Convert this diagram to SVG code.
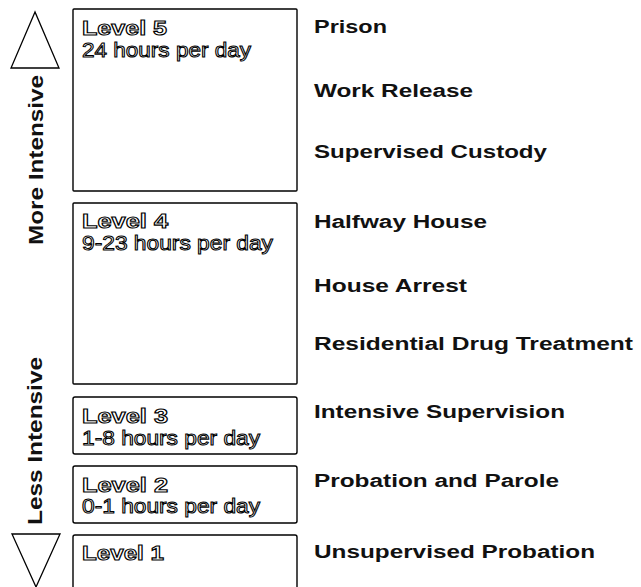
<svg xmlns="http://www.w3.org/2000/svg" width="641" height="587" viewBox="0 0 641 587">
<style>
.box{fill:#fff;stroke:#000;stroke-width:1.4}
.tri{fill:#fff;stroke:#000;stroke-width:1.3;stroke-linejoin:miter}
.lvl{font-family:"Liberation Sans",Arial,sans-serif;font-weight:bold;font-size:21px;fill:#fff;stroke:#000;stroke-width:1.1}
.hrs{font-family:"Liberation Sans",Arial,sans-serif;font-size:20px;fill:#fff;stroke:#000;stroke-width:1}
.prog{font-family:"Liberation Sans",Arial,sans-serif;font-weight:bold;font-size:18px;fill:#111}
.side{font-family:"Liberation Sans",Arial,sans-serif;font-weight:bold;font-size:21px;fill:#111}
</style>
<rect width="641" height="587" fill="#fff"/>
<g id="scale">
<polygon class="tri" points="35,12 11,68 59,68"/>
<polygon class="tri" points="12,534 60,534 36,587"/>
<text class="side" transform="translate(43,245) rotate(-90)" textLength="170" lengthAdjust="spacingAndGlyphs">More Intensive</text>
<text class="side" transform="translate(42,525) rotate(-90)" textLength="168" lengthAdjust="spacingAndGlyphs">Less Intensive</text>
</g>
<g id="level5">
<rect class="box" x="73" y="9" width="224" height="182" rx="1"/>
<text class="lvl" x="82" y="35" textLength="85" lengthAdjust="spacingAndGlyphs">Level 5</text>
<text class="hrs" x="82" y="57" textLength="169" lengthAdjust="spacingAndGlyphs">24 hours per day</text>
</g>
<g id="level4">
<rect class="box" x="73" y="203" width="224" height="181" rx="1"/>
<text class="lvl" x="82" y="228" textLength="86" lengthAdjust="spacingAndGlyphs">Level 4</text>
<text class="hrs" x="82" y="250" textLength="191" lengthAdjust="spacingAndGlyphs">9-23 hours per day</text>
</g>
<g id="level3">
<rect class="box" x="73" y="397" width="224" height="57" rx="2"/>
<text class="lvl" x="82" y="423" textLength="86" lengthAdjust="spacingAndGlyphs">Level 3</text>
<text class="hrs" x="82" y="445" textLength="178" lengthAdjust="spacingAndGlyphs">1-8 hours per day</text>
</g>
<g id="level2">
<rect class="box" x="73" y="466" width="224" height="57" rx="2"/>
<text class="lvl" x="82" y="492" textLength="86" lengthAdjust="spacingAndGlyphs">Level 2</text>
<text class="hrs" x="82" y="513" textLength="178" lengthAdjust="spacingAndGlyphs">0-1 hours per day</text>
</g>
<g id="level1">
<rect class="box" x="73" y="535" width="224" height="60" rx="2"/>
<text class="lvl" x="82" y="560" textLength="82" lengthAdjust="spacingAndGlyphs">Level 1</text>
</g>
<g id="programs">
<text class="prog" x="314" y="33" textLength="73" lengthAdjust="spacingAndGlyphs">Prison</text>
<text class="prog" x="314" y="97" textLength="159" lengthAdjust="spacingAndGlyphs">Work Release</text>
<text class="prog" x="314" y="158" textLength="233" lengthAdjust="spacingAndGlyphs">Supervised Custody</text>
<text class="prog" x="314" y="228" textLength="173" lengthAdjust="spacingAndGlyphs">Halfway House</text>
<text class="prog" x="314" y="292" textLength="153" lengthAdjust="spacingAndGlyphs">House Arrest</text>
<text class="prog" x="314" y="350" textLength="319" lengthAdjust="spacingAndGlyphs">Residential Drug Treatment</text>
<text class="prog" x="314" y="418" textLength="251" lengthAdjust="spacingAndGlyphs">Intensive Supervision</text>
<text class="prog" x="314" y="487" textLength="245" lengthAdjust="spacingAndGlyphs">Probation and Parole</text>
<text class="prog" x="314" y="558" textLength="281" lengthAdjust="spacingAndGlyphs">Unsupervised Probation</text>
</g>
</svg>
